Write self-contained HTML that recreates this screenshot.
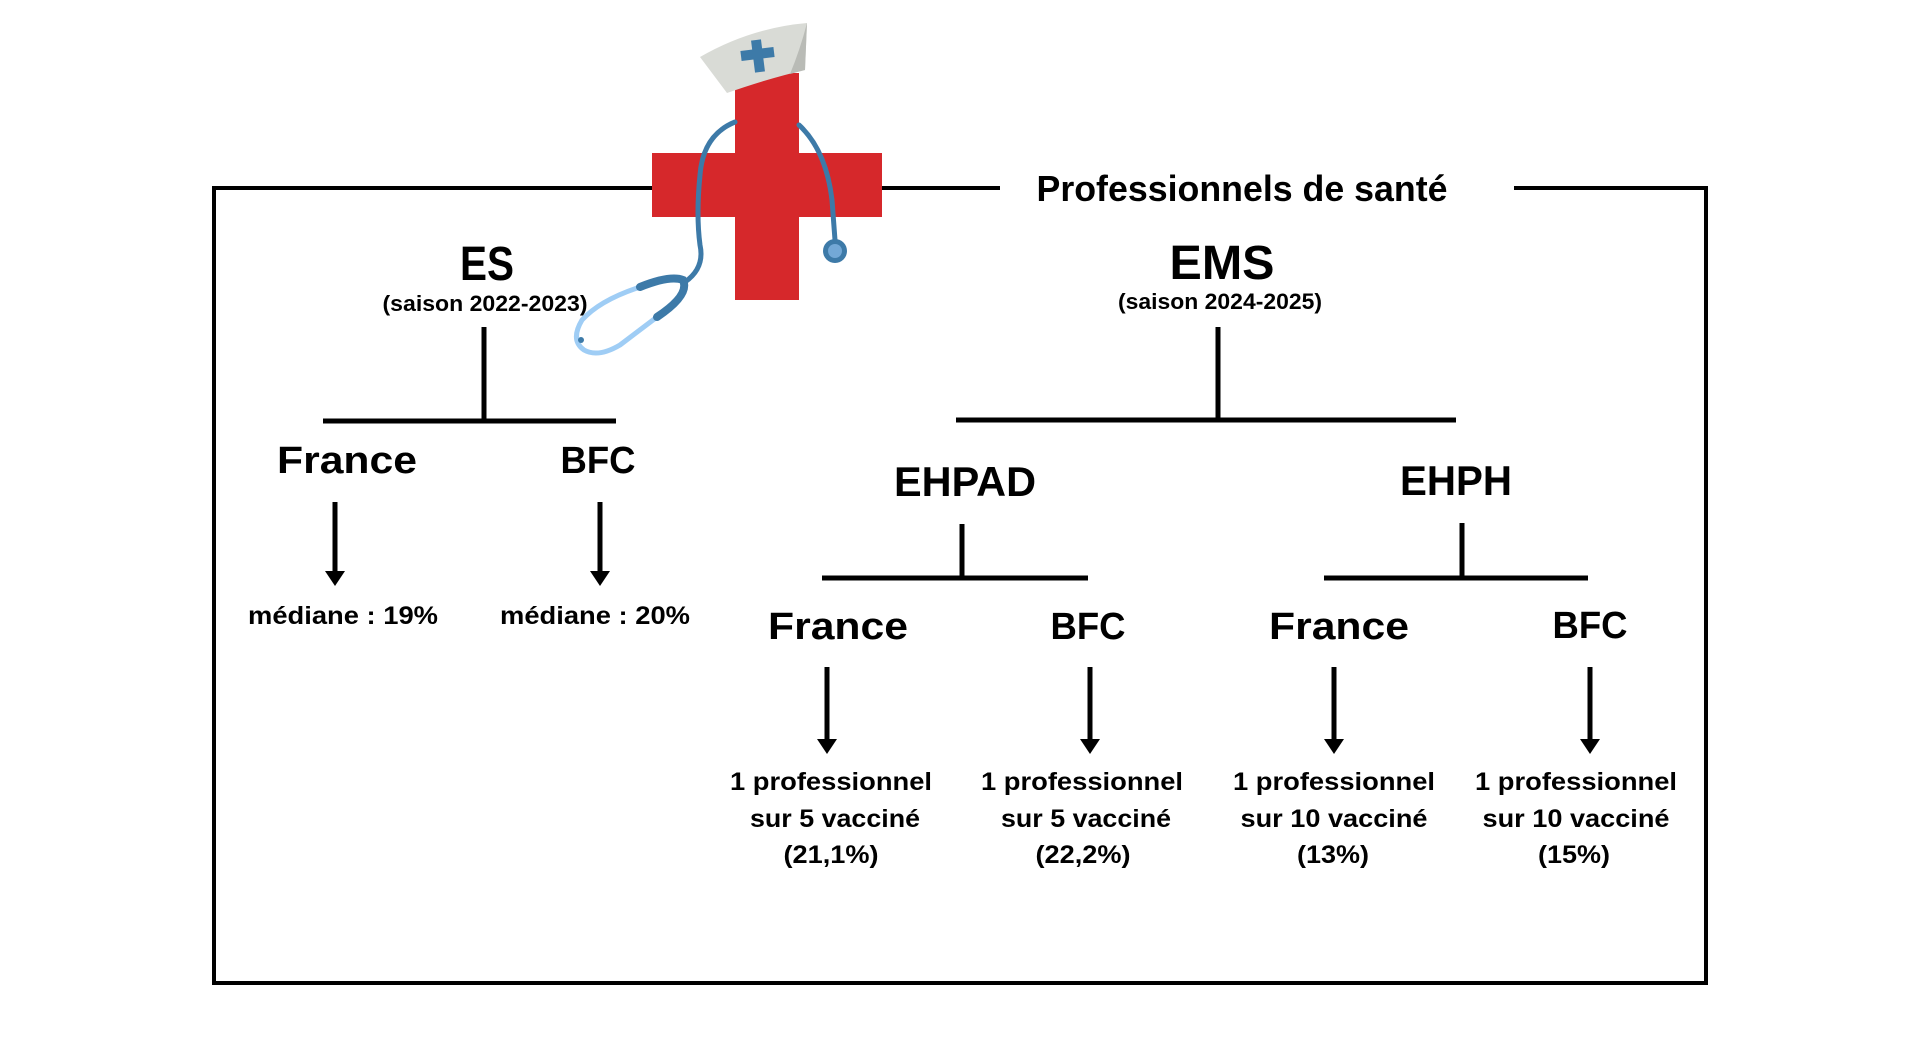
<!DOCTYPE html>
<html><head><meta charset="utf-8"><style>
html,body{margin:0;padding:0;background:#fff;}
svg{display:block;}
text{font-family:"Liberation Sans",sans-serif;font-weight:bold;fill:#000;}
</style></head><body>
<svg width="1914" height="1042" viewBox="0 0 1914 1042" xmlns="http://www.w3.org/2000/svg">
<g stroke="#000" stroke-width="4" fill="none">
<polyline points="1000,188 214,188 214,983 1706,983 1706,188 1514,188"/>
</g>
<rect x="652" y="153" width="230" height="64" fill="#d6282b"/>
<rect x="735" y="73" width="64" height="227" fill="#d6282b"/>
<path d="M700,57 Q750,28 807,23 L805,70 Q770,78 727,93 Z" fill="#d9dbd6"/>
<path d="M807,23 L805,70 L790,74 Q800,50 807,23Z" fill="#b9bbb6"/>
<g stroke="#3d7aa8" stroke-width="10"><line x1="741" y1="56" x2="774" y2="52"/><line x1="756" y1="40" x2="760" y2="72"/></g>
<g fill="none" stroke-linecap="round">
<path d="M735,122 Q703,135 700,175 Q696,215 700,245 Q705,268 685,282" stroke="#3d7aa8" stroke-width="5"/>
<path d="M799,125 Q826,150 832,200 L835,240" stroke="#3d7aa8" stroke-width="5"/>
<path d="M640,287 Q600,300 582,320 Q570,340 584,350 Q598,358 620,345 L657,317" stroke="#9fcdf5" stroke-width="5"/>
<path d="M640,287 Q670,275 683,280 Q690,295 657,317" stroke="#3d7aa8" stroke-width="8"/>
</g>
<circle cx="581" cy="340" r="3" fill="#3d7aa8"/>
<circle cx="835" cy="251" r="12" fill="#3d7aa8"/>
<circle cx="835" cy="251" r="7" fill="#73a8d6"/>
<text x="1242" y="201" font-size="36" text-anchor="middle" textLength="411" lengthAdjust="spacingAndGlyphs">Professionnels de santé</text>
<text x="487" y="280" font-size="48" text-anchor="middle" textLength="54" lengthAdjust="spacingAndGlyphs">ES</text>
<text x="485" y="311" font-size="22" text-anchor="middle" textLength="205" lengthAdjust="spacingAndGlyphs">(saison 2022-2023)</text>
<text x="1222" y="279" font-size="48" text-anchor="middle" textLength="105" lengthAdjust="spacingAndGlyphs">EMS</text>
<text x="1220" y="309" font-size="22" text-anchor="middle" textLength="204" lengthAdjust="spacingAndGlyphs">(saison 2024-2025)</text>
<g stroke="#000" stroke-width="5">
<line x1="484" y1="327" x2="484" y2="421"/><line x1="323" y1="421" x2="616" y2="421"/>
<line x1="1218" y1="327" x2="1218" y2="420"/><line x1="956" y1="420" x2="1456" y2="420"/>
<line x1="962" y1="524" x2="962" y2="578"/><line x1="822" y1="578" x2="1088" y2="578"/>
<line x1="1462" y1="523" x2="1462" y2="578"/><line x1="1324" y1="578" x2="1588" y2="578"/>
</g>
<text x="347" y="473" font-size="38" text-anchor="middle" textLength="140" lengthAdjust="spacingAndGlyphs">France</text>
<text x="598" y="473" font-size="38" text-anchor="middle" textLength="75" lengthAdjust="spacingAndGlyphs">BFC</text>
<text x="965" y="496" font-size="42" text-anchor="middle" textLength="142" lengthAdjust="spacingAndGlyphs">EHPAD</text>
<text x="1456" y="495" font-size="42" text-anchor="middle" textLength="112" lengthAdjust="spacingAndGlyphs">EHPH</text>
<text x="838" y="639" font-size="38" text-anchor="middle" textLength="140" lengthAdjust="spacingAndGlyphs">France</text>
<text x="1088" y="639" font-size="38" text-anchor="middle" textLength="75" lengthAdjust="spacingAndGlyphs">BFC</text>
<text x="1339" y="639" font-size="38" text-anchor="middle" textLength="140" lengthAdjust="spacingAndGlyphs">France</text>
<text x="1590" y="638" font-size="38" text-anchor="middle" textLength="75" lengthAdjust="spacingAndGlyphs">BFC</text>
<g stroke="#000" stroke-width="5">
<line x1="335" y1="502" x2="335" y2="575"/><line x1="600" y1="502" x2="600" y2="575"/>
<line x1="827" y1="667" x2="827" y2="742"/><line x1="1090" y1="667" x2="1090" y2="742"/>
<line x1="1334" y1="667" x2="1334" y2="742"/><line x1="1590" y1="667" x2="1590" y2="742"/>
</g>
<g fill="#000">
<polygon points="325,571 345,571 335,586"/><polygon points="590,571 610,571 600,586"/>
<polygon points="817,739 837,739 827,754"/><polygon points="1080,739 1100,739 1090,754"/>
<polygon points="1324,739 1344,739 1334,754"/><polygon points="1580,739 1600,739 1590,754"/>
</g>
<text x="343" y="624" font-size="25" text-anchor="middle" textLength="190" lengthAdjust="spacingAndGlyphs">médiane : 19%</text>
<text x="595" y="624" font-size="25" text-anchor="middle" textLength="190" lengthAdjust="spacingAndGlyphs">médiane : 20%</text>
<g font-size="25">
<text x="831" y="790" text-anchor="middle" textLength="202" lengthAdjust="spacingAndGlyphs">1 professionnel</text>
<text x="835" y="827" text-anchor="middle" textLength="170" lengthAdjust="spacingAndGlyphs">sur 5 vacciné</text>
<text x="831" y="863" text-anchor="middle" textLength="95" lengthAdjust="spacingAndGlyphs">(21,1%)</text>
<text x="1082" y="790" text-anchor="middle" textLength="202" lengthAdjust="spacingAndGlyphs">1 professionnel</text>
<text x="1086" y="827" text-anchor="middle" textLength="170" lengthAdjust="spacingAndGlyphs">sur 5 vacciné</text>
<text x="1083" y="863" text-anchor="middle" textLength="95" lengthAdjust="spacingAndGlyphs">(22,2%)</text>
<text x="1334" y="790" text-anchor="middle" textLength="202" lengthAdjust="spacingAndGlyphs">1 professionnel</text>
<text x="1334" y="827" text-anchor="middle" textLength="187" lengthAdjust="spacingAndGlyphs">sur 10 vacciné</text>
<text x="1333" y="863" text-anchor="middle" textLength="72" lengthAdjust="spacingAndGlyphs">(13%)</text>
<text x="1576" y="790" text-anchor="middle" textLength="202" lengthAdjust="spacingAndGlyphs">1 professionnel</text>
<text x="1576" y="827" text-anchor="middle" textLength="187" lengthAdjust="spacingAndGlyphs">sur 10 vacciné</text>
<text x="1574" y="863" text-anchor="middle" textLength="72" lengthAdjust="spacingAndGlyphs">(15%)</text>
</g>
</svg>
</body></html>
